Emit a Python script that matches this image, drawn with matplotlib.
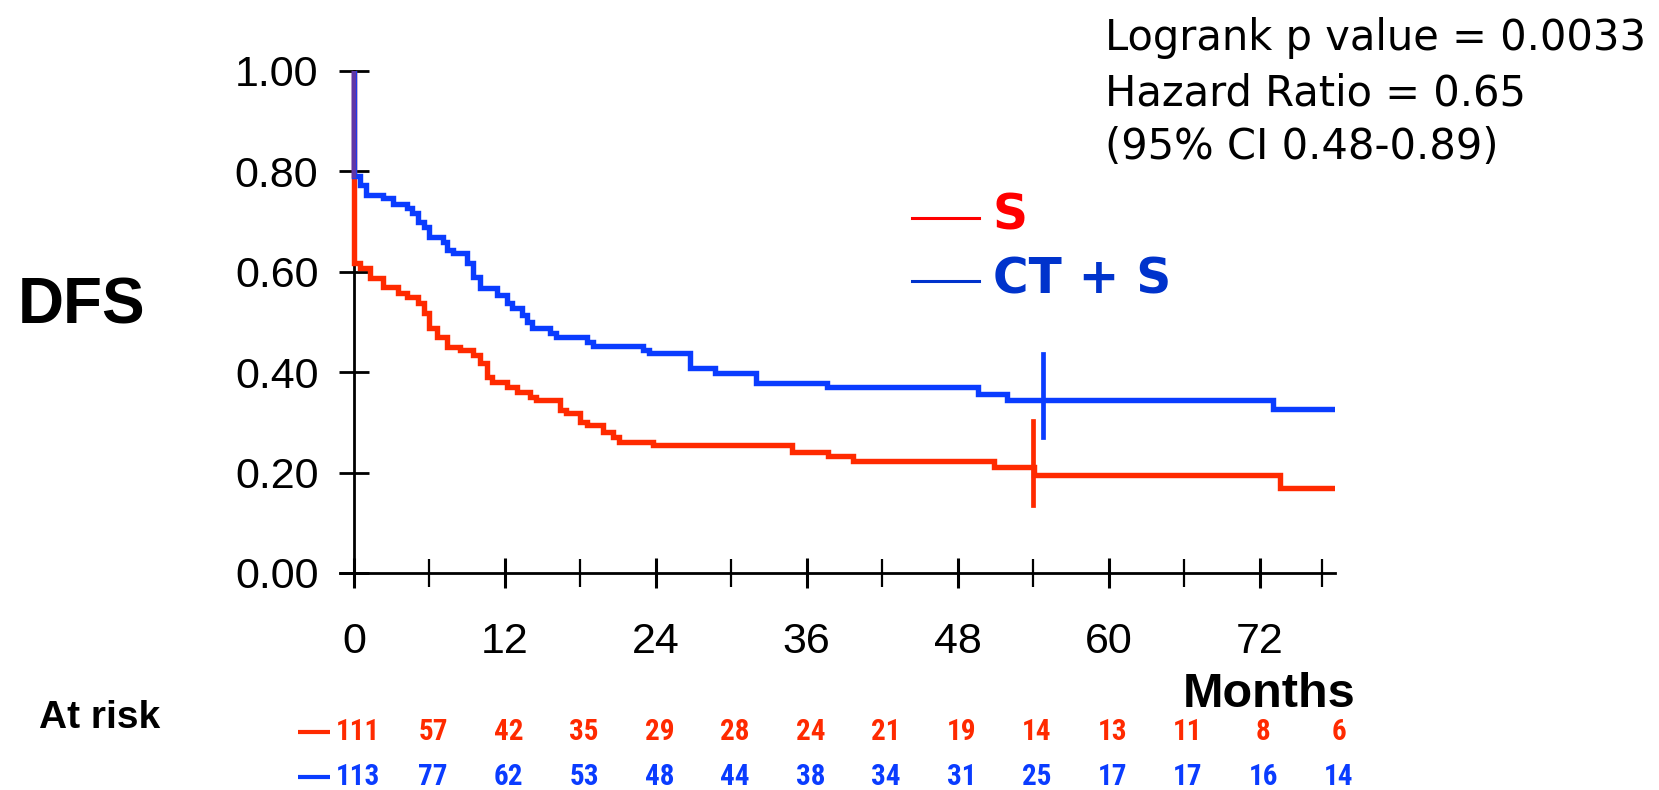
import numpy as np
import matplotlib
matplotlib.use("Agg")
from matplotlib import pyplot as plt
from matplotlib import font_manager
from matplotlib.colors import to_rgb
from matplotlib.lines import Line2D

# Kaplan-Meier DFS curves: level start times (months) and survival after each step
s_t = [0, 0, 0.5, 1.3, 2.3, 3.5, 4.2, 5.1, 5.6, 6.0, 6.6, 7.4, 8.4, 9.5, 10.0,
       10.6, 11.0, 12.2, 13.0, 14.0, 14.5, 16.4, 16.9, 18.0, 18.5, 19.8, 20.6,
       21.1, 23.8, 34.8, 37.7, 39.7, 50.9, 54.1, 73.6]
s_surv = [1.0, 0.617, 0.607, 0.587, 0.57, 0.558, 0.55, 0.538, 0.518, 0.488,
          0.47, 0.45, 0.444, 0.434, 0.418, 0.39, 0.38, 0.37, 0.36, 0.35, 0.345,
          0.325, 0.318, 0.30, 0.295, 0.281, 0.27, 0.261, 0.254, 0.241, 0.233,
          0.223, 0.211, 0.195, 0.169]
ct_t = [0, 0, 0.5, 1.0, 2.3, 3.1, 4.2, 4.6, 5.1, 5.6, 6.0, 7.1, 7.4, 7.9, 9.0,
        9.5, 10.0, 11.4, 12.2, 12.6, 13.4, 13.8, 14.2, 15.6, 16.1, 18.5, 19.0,
        23.0, 23.5, 26.7, 28.7, 32.0, 37.6, 49.6, 51.9, 73.1]
ct_surv = [1.0, 0.79, 0.773, 0.753, 0.747, 0.735, 0.727, 0.717, 0.70, 0.689,
           0.67, 0.66, 0.643, 0.637, 0.617, 0.59, 0.568, 0.554, 0.538, 0.528,
           0.514, 0.50, 0.488, 0.478, 0.47, 0.46, 0.452, 0.444, 0.438, 0.408,
           0.399, 0.379, 0.371, 0.357, 0.345, 0.327]
follow_up_end = 78.0
s_censor = [54.0]
ct_censor = [54.8]

# numbers at risk
risk_months = list(range(0, 79, 6))
risk_s = [111, 57, 42, 35, 29, 28, 24, 21, 19, 14, 13, 11, 8, 6]
risk_ct = [113, 77, 62, 53, 48, 44, 38, 34, 31, 25, 17, 17, 16, 14]

stats_lines = ["Logrank p value = 0.0033", "Hazard Ratio = 0.65",
               "(95% CI 0.48-0.89)"]

RED, BLUE = "#ff2a00", "#0a3cff"
LEG_RED, LEG_BLUE = "#ff0000", "#0033cc"

ARIAL = "Liberation Sans"
_names = {f.name for f in font_manager.fontManager.ttflist}
NARROW = next((n for n in ("Liberation Sans Narrow", "Arial Narrow",
                           "Roboto Condensed", "Open Sans Condensed")
               if n in _names), None)
num_font = dict(family=NARROW, fontsize=21) if NARROW else dict(family=ARIAL, fontsize=19)

W, H = 1659, 790
fig = plt.figure(figsize=(W / 100, H / 100), dpi=100)


def fx(x):
    return x / W


def fy(y):
    return 1 - y / H


ax = fig.add_axes([fx(340), fy(573), 995 / W, 502 / H])
ax.set_xlim(-1.1, follow_up_end)
ax.set_ylim(0, 1.0)
for side in ("top", "right"):
    ax.spines[side].set_visible(False)
ax.spines["left"].set_position(("data", 0))
for sp in ("left", "bottom"):
    ax.spines[sp].set_linewidth(2.0)

for t, s, c in ((s_t, s_surv, RED), (ct_t, ct_surv, BLUE)):
    ax.step(t + [follow_up_end], s + [s[-1]], where="post", color=c, lw=3.9,
            zorder=3, solid_joinstyle="miter")

# the two curves share the first drop at t=0; the overlap reads as a blend
top_shared = max(s_surv[1], ct_surv[1])
mix = 0.35 * np.array(to_rgb(RED)) + 0.65 * np.array(to_rgb(BLUE))
ax.plot([0, 0], [top_shared, 1.0], color=mix, lw=3.2, zorder=4)

# censor marks
for cens, t, s, c in ((s_censor, s_t, s_surv, RED), (ct_censor, ct_t, ct_surv, BLUE)):
    for ct in cens:
        v = s[np.searchsorted(t, ct, side="right") - 1]
        ax.plot([ct, ct], [v - 0.075, v + 0.092], color=c, lw=3.4, zorder=3)

ax.set_yticks(np.arange(0, 1.01, 0.2))
ax.set_yticklabels([f"{v:.2f}" for v in np.arange(0, 1.01, 0.2)])
ax.set_xticks(range(0, 73, 12))
ax.set_xticks(list(range(6, 67, 12)) + [77], minor=True)
ax.tick_params(axis="y", direction="inout", length=21, width=2.0, pad=15,
               labelsize=31)
ax.tick_params(axis="x", which="major", direction="inout", length=22, width=2.2,
               pad=24, labelsize=31)
ax.tick_params(axis="x", which="minor", direction="inout", length=20, width=1.6)
for lab in ax.get_xticklabels() + ax.get_yticklabels():
    lab.set_fontfamily(ARIAL)

fig.text(fx(18), fy(324), "DFS", fontsize=46, fontweight="bold", family=ARIAL,
         va="baseline", ha="left")
fig.text(fx(1356), fy(707), "Months", fontsize=35, fontweight="bold",
         family=ARIAL, va="baseline", ha="right")
fig.text(fx(39), fy(728), "At risk", fontsize=28, fontweight="bold",
         family=ARIAL, va="baseline", ha="left")

# statistics block
for line, base in zip(stats_lines, (50, 106, 159)):
    fig.text(fx(1105), fy(base), line, fontsize=30, family="DejaVu Sans",
             va="baseline", ha="left")

# group key
for label, ybar, base, c in (("S", 218, 229, LEG_RED), ("CT + S", 281, 293, LEG_BLUE)):
    fig.add_artist(Line2D([fx(912), fx(979)], [fy(ybar), fy(ybar)], color=c,
                          lw=2.2, transform=fig.transFigure))
    fig.text(fx(993), fy(base), label, fontsize=35, fontweight="bold",
             family="DejaVu Sans", color=c, va="baseline", ha="left")

# at-risk table, placed under the time axis
trans = ax.get_xaxis_transform()
for counts, yrow, c in ((risk_s, 732, RED), (risk_ct, 777, BLUE)):
    ya = (573 - yrow) / 502
    ax.plot([-4.4, -1.9], [ya, ya], color=c, lw=3.0, transform=trans,
            clip_on=False, solid_capstyle="butt")
    for m, n in zip(risk_months, counts):
        ax.text(m + 0.3, ya, str(n), transform=trans, color=c,
                fontweight="bold", ha="center", va="center", clip_on=False,
                **num_font)

fig.savefig("out.png", dpi=100)
